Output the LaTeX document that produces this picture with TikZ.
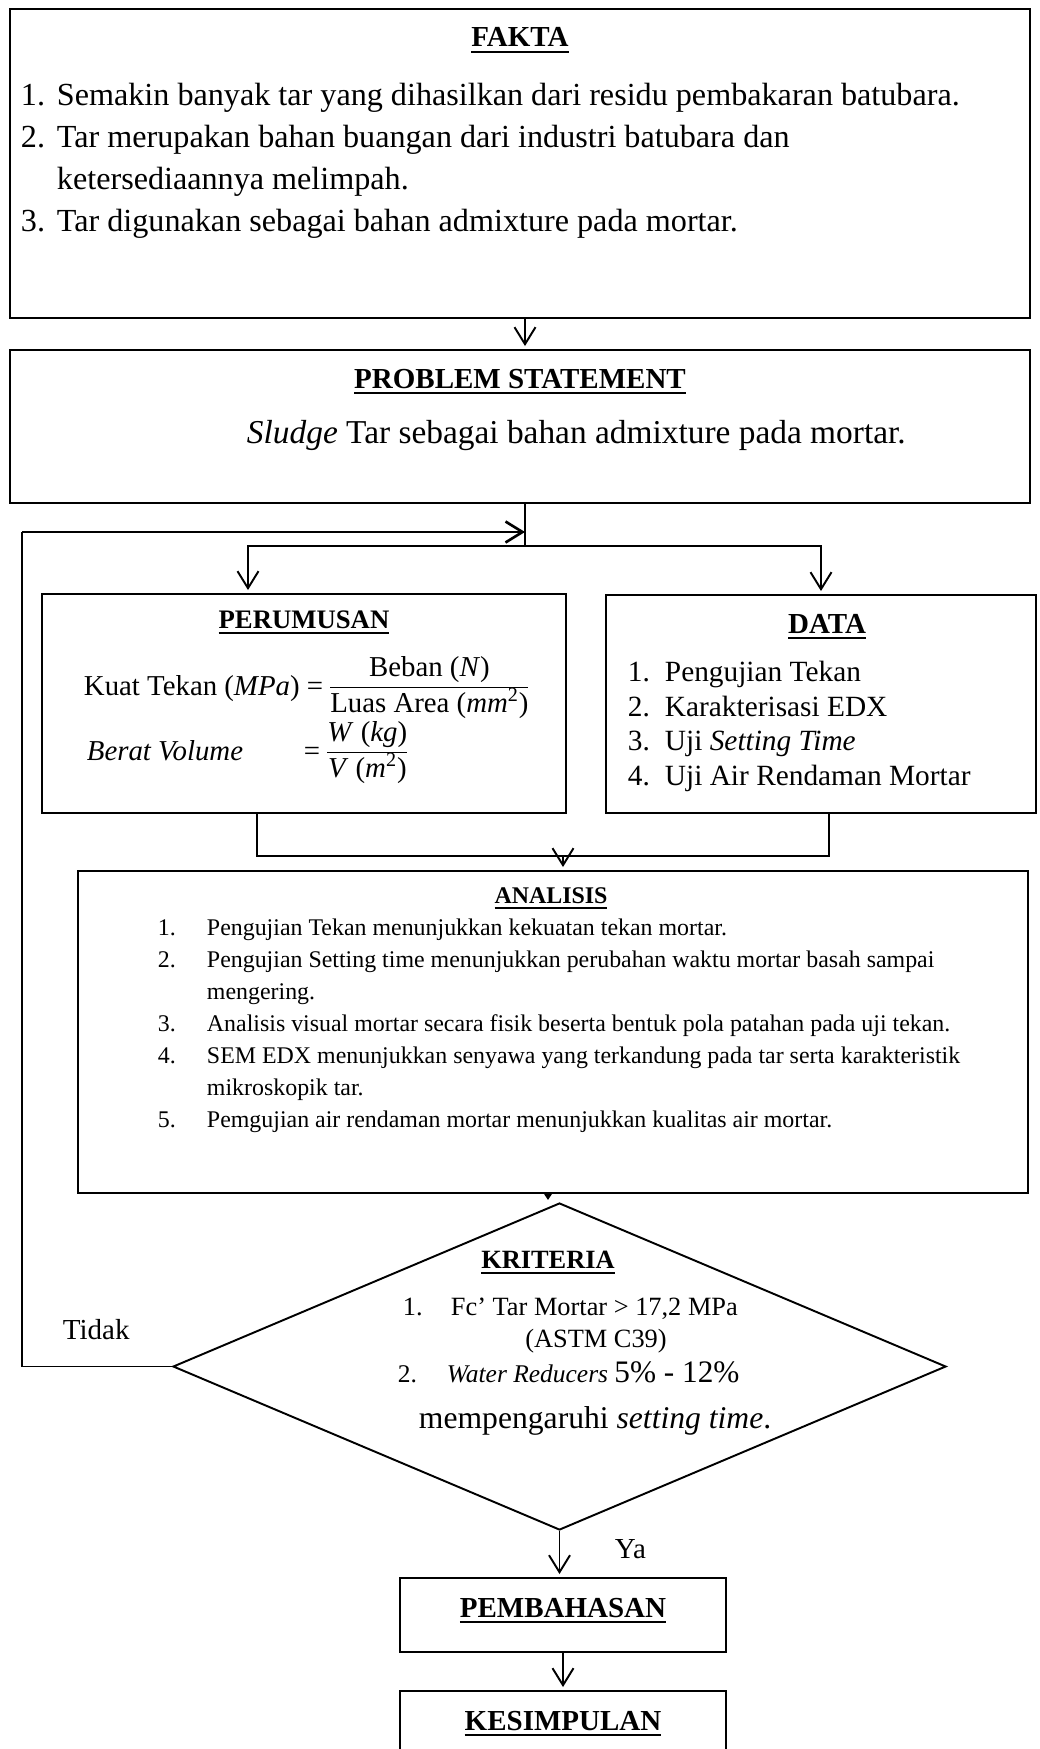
\documentclass[tikz,border=0pt]{standalone}
\usepackage{fontspec}
\setmainfont{Liberation Serif}
\usetikzlibrary{arrows.meta,positioning,fit,shapes.geometric}
\setlength{\arrayrulewidth}{0.9pt}
\newsavebox{\ttlbox}
\newcommand{\ttl}[1]{\sbox{\ttlbox}{\bfseries #1}\rlap{\usebox{\ttlbox}}\rule[-3.6pt]{\wd\ttlbox}{1.5pt}}
\newcommand{\nr}[2]{\makebox[#1][l]{#2}}
\newcommand{\fs}[2]{\fontsize{#1}{#2}\selectfont}

\begin{document}
\begin{tikzpicture}[x=0.2mm, y=-0.2mm, line width=1.1pt, >={Straight Barb[length=3.4mm,width=4.2mm]}]
\tikzstyle{every node} = [inner sep=0pt]
\tikzstyle{box} = [draw, inner sep=0pt]
\tikzstyle{arr} = [->, shorten >=0.6mm]
\tikzstyle{ttlfont} = [font=\fs{16.5}{20}]
\path[use as bounding box, clip] (0,0) rectangle (1039,1749);

% fakta (lists are placed by the baseline of their last line)
\node[box, fit={(10,9) (1030,318)}] (fakta) {};
\node[ttlfont, anchor=base] (faktaT) at (520,47) {\ttl{FAKTA}};
\node[anchor=base west, align=left, font=\fs{18.3}{24.07}] (faktaL) at (20,232) {%
\nr{7.2mm}{1.}Semakin banyak tar yang dihasilkan dari residu pembakaran batubara.\\
\nr{7.2mm}{2.}Tar merupakan bahan buangan dari industri batubara dan\\
\hspace*{7.2mm}ketersediaannya melimpah.\\
\nr{7.2mm}{3.}Tar digunakan sebagai bahan admixture pada mortar.};

% problem statement
\node[box, fit={(10,350) (1030,503)}] (prob) {};
\node[ttlfont, anchor=base] (probT) at (520,388) {\ttl{PROBLEM STATEMENT}};
\node[anchor=base west, font=\fs{19}{22}] (probL) at (246,443) {\textit{Sludge} Tar sebagai bahan admixture pada mortar.};

% perumusan
\node[box, fit={(42,594) (566,813)}] (perum) {};
\node[anchor=base, font=\fs{15.2}{19}] (perumT) at (304,628) {\ttl{PERUMUSAN}};
\node[anchor=base west, font=\fs{16.4}{19.8}] (eqA) at (83,695) {Kuat Tekan (\textit{MPa}) = \begin{tabular}[c]{@{}c@{}}Beban (\textit{N})\\\hline Luas Area (\textit{mm}\textsuperscript{2})\end{tabular}};
\node[anchor=base west, font=\fs{16.4}{19.8}] (eqB) at (86,760) {\textit{Berat Volume}};
\node[anchor=base west, font=\fs{16.4}{19.8}] (eqBf) at (303,760) {= \begin{tabular}[c]{@{}c@{}}\textit{W} (\textit{kg})\\\hline \textit{V} (\textit{m}\textsuperscript{2})\end{tabular}};

% data
\node[box, fit={(606,595) (1036,813)}] (data) {};
\node[ttlfont, anchor=base] (dataT) at (827,633) {\ttl{DATA}};
\node[anchor=base west, align=left, font=\fs{16.7}{19.6}] (dataL) at (627,785) {%
\nr{7.4mm}{1.}Pengujian Tekan\\
\nr{7.4mm}{2.}Karakterisasi EDX\\
\nr{7.4mm}{3.}Uji \textit{Setting Time}\\
\nr{7.4mm}{4.}Uji Air Rendaman Mortar};

% analisis
\node[box, fit={(78,871) (1028,1193)}] (anal) {};
\node[anchor=base, font=\fs{13.6}{18}] (analT) at (551,903) {\ttl{ANALISIS}};
\node[anchor=base west, align=left, font=\fs{13.6}{18.2}] (analL) at (157,1127) {%
\nr{9.8mm}{1.}Pengujian Tekan menunjukkan kekuatan tekan mortar.\\
\nr{9.8mm}{2.}Pengujian Setting time menunjukkan perubahan waktu mortar basah sampai\\
\hspace*{9.8mm}mengering.\\
\nr{9.8mm}{3.}Analisis visual mortar secara fisik beserta bentuk pola patahan pada uji tekan.\\
\nr{9.8mm}{4.}SEM EDX menunjukkan senyawa yang terkandung pada tar serta karakteristik\\
\hspace*{9.8mm}mikroskopik tar.\\
\nr{9.8mm}{5.}Pemgujian air rendaman mortar menunjukkan kualitas air mortar.};

% kriteria
\node[draw, diamond, minimum width=154.6mm, minimum height=65.4mm] (krit) at (559.5,1366.5) {};
\node[anchor=base, font=\fs{15}{18}] (kritT) at (548,1268) {\ttl{KRITERIA}};
\node[anchor=base west, font=\fs{15}{18}] (kritA) at (402,1315) {\nr{9.6mm}{1.}Fc’ Tar Mortar > 17,2 MPa};
\node[anchor=base, font=\fs{15}{18}] (kritB) at (596,1347) {(ASTM C39)};
\node[anchor=base west, font=\fs{14.5}{18}] (kritC) at (397,1382) {\nr{9.8mm}{2.}\textit{Water Reducers} {\fs{17.8}{20}5\% - 12\%}};
\node[anchor=base west, font=\fs{18}{22}] (kritD) at (418,1428) {mempengaruhi \textit{setting time}.};
\node[anchor=base west, font=\fs{16.5}{20}] (tidak) at (62,1339) {Tidak};
\node[anchor=base west, font=\fs{16.5}{20}] (ya) at (614,1558) {Ya};

% pembahasan, kesimpulan
\node[box, fit={(400,1578) (726,1652)}] (pemb) {};
\node[ttlfont, anchor=base] (pembT) at (563,1617) {\ttl{PEMBAHASAN}};
\node[box, fit={(400,1691) (726,1800)}] (kesim) {};
\node[ttlfont, anchor=base] (kesimT) at (563,1730) {\ttl{KESIMPULAN}};

% connectors
\coordinate (ret) at (525,532);
\coordinate (spl) at (525,546);
\coordinate (spL) at (248,546);
\coordinate (spR) at (821,546);
\coordinate (lp) at (22,532);
\coordinate (jL) at (257,856);
\coordinate (jM) at (563,856);
\coordinate (jR) at (829,856);
\coordinate (kt) at (548,1200);
\draw[arr] (fakta.south -| ret) -- (prob.north -| ret);
\draw (prob.south -| ret) -- (spl);
\draw[arr] (spl) -- (spL) -- (perum.north -| spL);
\draw[arr] (spl) -- (spR) -- (data.north -| spR);
\draw (perum.south -| jL) -- (jL) -- (jR) -- (data.south -| jR);
\draw[arr] (jM) -- (anal.north -| jM);
\draw[-{Triangle[length=1.3mm,width=1.6mm]}] (anal.south -| kt) -- (kt);
\draw (krit.west) -| (lp);
\draw[->, line width=1.5pt] (lp) -- (ret);
\draw[arr] (krit.south) -- (krit.south |- pemb.north);
\draw[arr] (pemb.south) -- (kesim.north);
\end{tikzpicture}
\end{document}
